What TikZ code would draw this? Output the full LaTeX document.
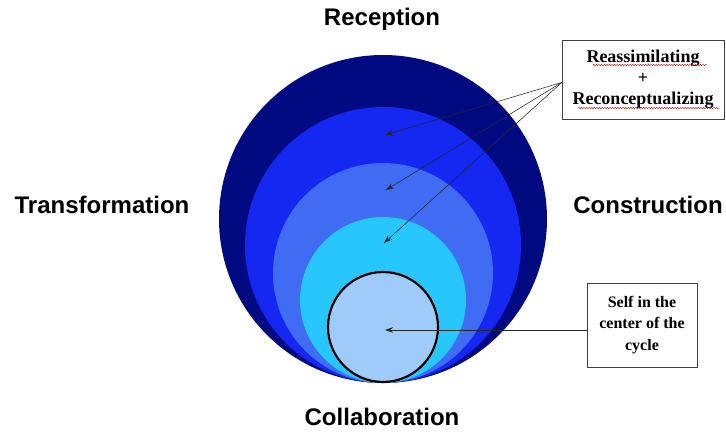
\documentclass[tikz,border=0pt]{standalone}
\usepackage{fontspec}
\setmainfont{Liberation Serif}
\newfontfamily\headfont{Liberation Sans}
\usetikzlibrary{arrows.meta,decorations.pathmorphing}

\begin{document}
\begin{tikzpicture}[x=1pt,y=1pt,
  phase/.style={font=\headfont\bfseries\fontsize{24}{28}\selectfont},
  notebox/.style={draw=black!75,line width=.6pt,fill=white,align=center,font=\bfseries,inner sep=0pt},
  pointer/.style={draw=black!85,line width=.55pt,-{Stealth[length=8pt,width=5.5pt]}},
  spell/.style={red!85!black,line width=.4pt,decorate,decoration={snake,amplitude=.7pt,segment length=2.6pt}}]
\definecolor{navy}{HTML}{020A82}\definecolor{royal}{HTML}{1428F2}
\definecolor{mid}{HTML}{3F6CF2}\definecolor{sky}{HTML}{27C6FC}
\definecolor{pale}{HTML}{9ECBFA}
\useasboundingbox (0,0) rectangle (726,434);
% nested circles, all touching at the bottom
\coordinate (base) at (383,51);
\fill[navy]  ([yshift=164]base) circle (164);
\fill[royal] ([yshift=138]base) circle (138);
\fill[mid]   ([yshift=110]base) circle (110);
\fill[sky]   ([yshift=83]base) circle (83);
\draw[pale,fill=pale] ([yshift=56]base) circle (56);
\draw[black,line width=2.2pt] ([yshift=56]base) circle (55);
% the four phases
\node[phase] (rec) at (382,415) {Reception};
\node[phase] (trans) at (102,229) {Transformation};
\node[phase] (cons) at (648,229) {Construction};
\node[phase] (coll) at (382,17) {Collaboration};
% notes
\node[notebox,minimum width=162,minimum height=79,font=\bfseries\fontsize{18}{21}\selectfont] (reas) at (643,354.5) {Reassimilating\\+\\Reconceptualizing};
\node[notebox,minimum width=110,minimum height=84,font=\bfseries\fontsize{16}{21.5}\selectfont] (self) at (642,109) {Self in the\\center of the\\cycle};
\draw[spell] (593,369) -- (707,369);
\draw[spell] (578,326) -- (720,326);
\coordinate (src) at ([yshift=-3pt]reas.west);
\coordinate (ringa) at (385,299);
\coordinate (ringb) at (386,244);
\coordinate (ringc) at (384,191);
\coordinate (core) at (385,104);
\draw[pointer] (src) -- (ringa);
\draw[pointer] (src) -- (ringb);
\draw[pointer] (src) -- (ringc);
\draw[pointer] ([yshift=-5pt]self.west) -- (core);
\end{tikzpicture}
\end{document}
